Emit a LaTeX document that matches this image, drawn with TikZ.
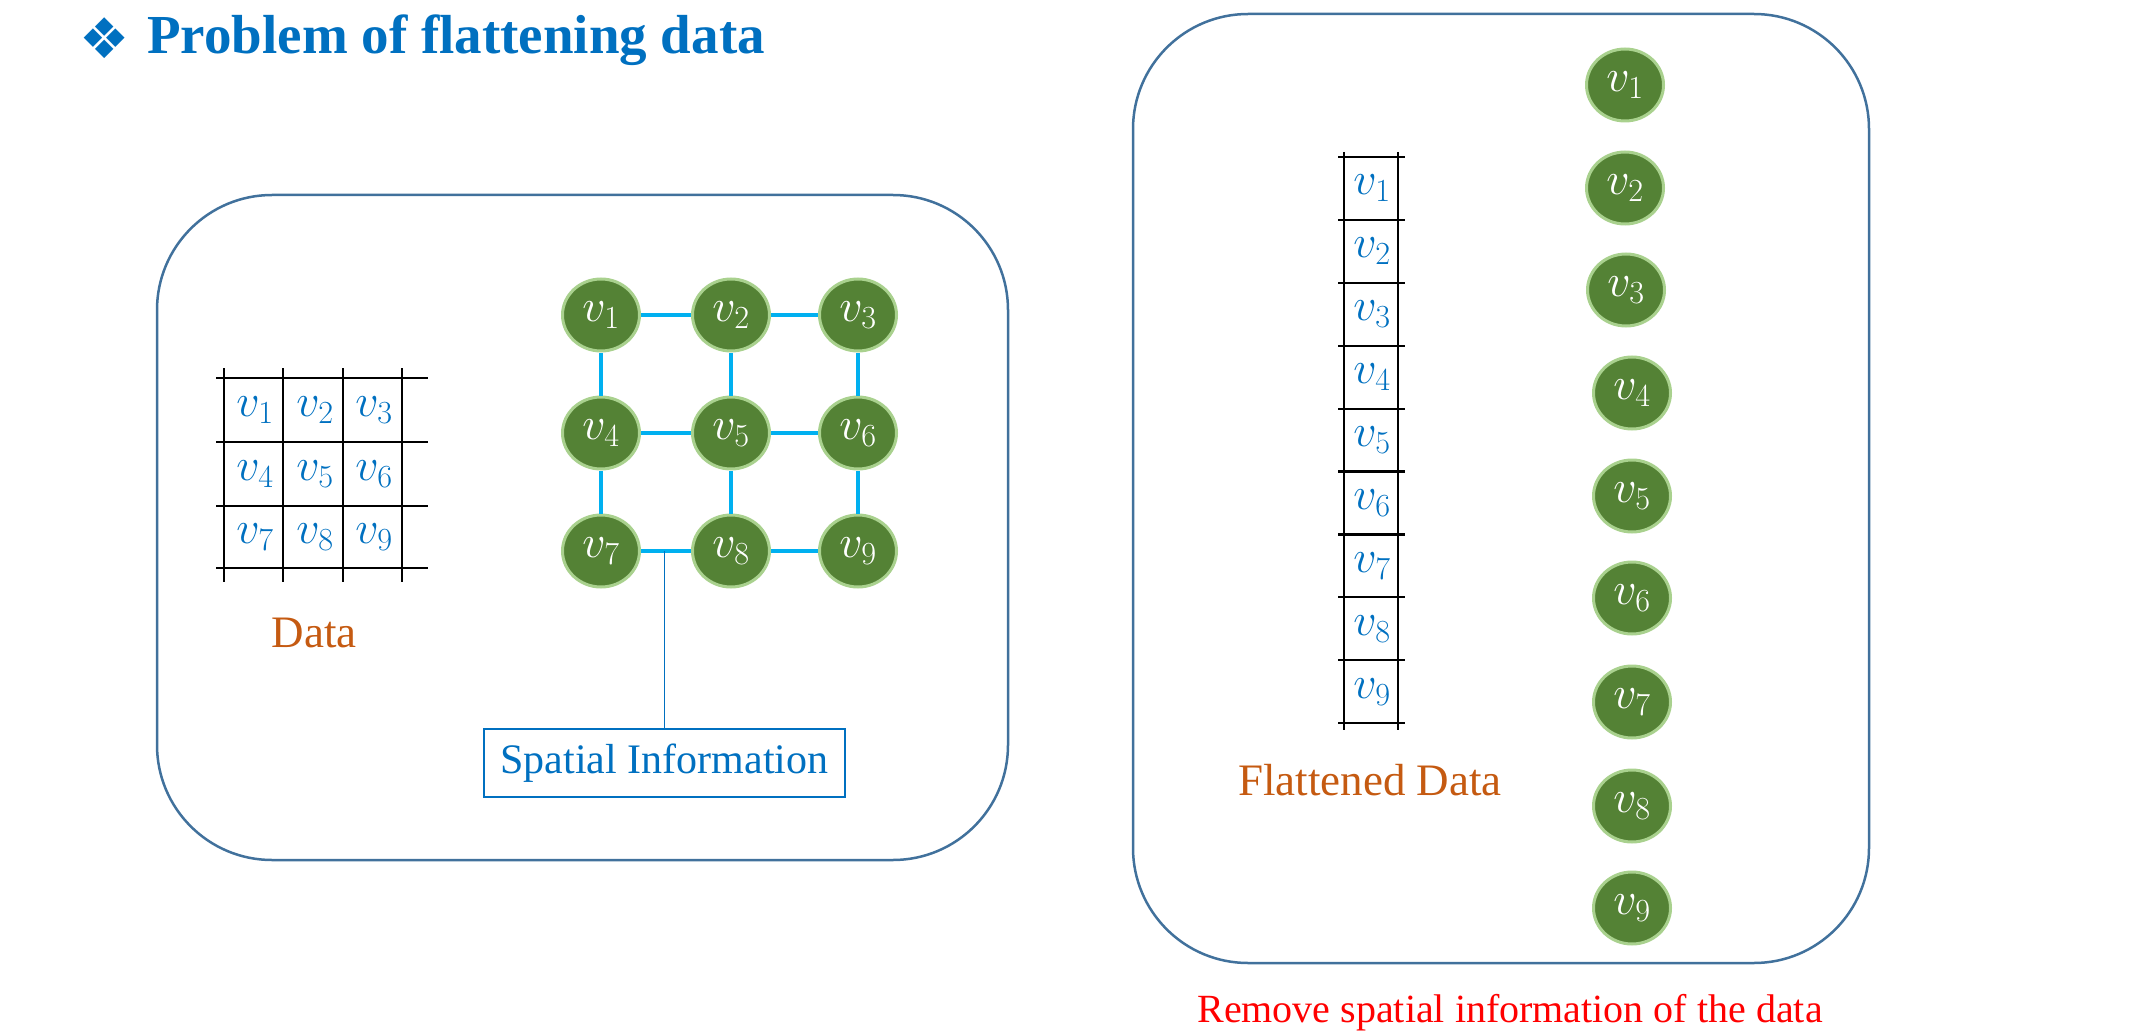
\RequirePackage{fix-cm}
\documentclass[tikz,border=0pt]{standalone}
\usepackage{fontspec}
\setmainfont{Liberation Serif}
\newfontfamily\symfont{DejaVu Sans}
\usetikzlibrary{shapes.geometric}
\definecolor{ttlblue}{HTML}{0070C0}
\definecolor{boxblue}{HTML}{41719C}
\definecolor{nodegreen}{HTML}{548235}
\definecolor{nodeborder}{HTML}{A9D18E}
\definecolor{edgeblue}{HTML}{00B0F0}
\definecolor{lblorange}{HTML}{C55A11}
\newcommand\myvsize{\fontsize{46}{50}\selectfont}
\tikzset{
  gnode/.style={ellipse, fill=nodegreen, draw=nodeborder, line width=3pt,
    minimum width=77pt, minimum height=72pt, inner sep=0pt, text=white, font=\myvsize},
  cell/.style={inner sep=0pt, text=ttlblue, font=\myvsize},
  edge/.style={draw=edgeblue, line width=4pt},
  gridline/.style={draw=black, line width=2.2pt},
  panel/.style={draw=boxblue, line width=2.5pt, rounded corners=115pt},
  lbl/.style={inner sep=0pt, text=lblorange, font=\fontsize{45}{50}\selectfont}
}
\begin{document}
\begin{tikzpicture}[x=1pt,y=-1pt]
\useasboundingbox (0,0) rectangle (2136,1032);
% title
\node[inner sep=0pt, text=ttlblue, font=\symfont\fontsize{56}{60}\selectfont] (tsym) at (105,38) {❖};
\node[inner sep=0pt, anchor=base west, text=ttlblue, font=\bfseries\fontsize{55}{60}\selectfont] (title) at (147,54) {Problem of flattening data};
% panels
\draw[panel] (157,195) rectangle (1008,860);
\draw[panel] (1133,14) rectangle (1869,963);
% left grid
\foreach \yy in {378,442,506,568} \draw[gridline] (216,\yy) -- (428,\yy);
\foreach \xx in {224,283,343,402} \draw[gridline, line width=1.8pt] (\xx,368) -- (\xx,582);
\foreach \i/\cx/\cy in {1/255/410,2/315/410,3/374/410,4/255/474,5/315/474,6/374/474,7/255/537,8/315/537,9/374/537}
  \node[cell] (c\i) at (\cx,\cy) {$v_{\i}$};
\node[lbl, anchor=base] (data) at (314,647) {Data};
% graph
\node[gnode] (v1) at (601,315) {$v_1$};
\node[gnode] (v2) at (731,315) {$v_2$};
\node[gnode] (v3) at (858,315) {$v_3$};
\node[gnode] (v4) at (601,433) {$v_4$};
\node[gnode] (v5) at (731,433) {$v_5$};
\node[gnode] (v6) at (858,433) {$v_6$};
\node[gnode] (v7) at (601,551) {$v_7$};
\node[gnode] (v8) at (731,551) {$v_8$};
\node[gnode] (v9) at (858,551) {$v_9$};
\draw[edge] (v1) -- (v2);
\draw[edge] (v2) -- (v3);
\draw[edge] (v4) -- (v5);
\draw[edge] (v5) -- (v6);
\draw[edge] (v7) -- (v8);
\draw[edge] (v8) -- (v9);
\draw[edge] (v1) -- (v4);
\draw[edge] (v4) -- (v7);
\draw[edge] (v2) -- (v5);
\draw[edge] (v5) -- (v8);
\draw[edge] (v3) -- (v6);
\draw[edge] (v6) -- (v9);
\node[draw=ttlblue, line width=2pt, text=ttlblue, font=\fontsize{42}{46}\selectfont,
  minimum width=361pt, minimum height=68pt, inner sep=0pt] (spatial) at (664.5,763) {Spatial Information};
\coordinate (tap) at (spatial.north |- v7);
\draw[ttlblue, line width=1.5pt] (tap) -- (spatial.north);
% right grid
\foreach \k in {0,...,9} \draw[gridline] (1338,157+62.9*\k) -- (1405,157+62.9*\k);
\foreach \xx in {1344,1398} \draw[gridline, line width=1.8pt] (\xx,152) -- (\xx,730);
\foreach \i in {1,...,9}
  \node[cell] (f\i) at (1372,157+31.45+62.9*\i-62.9) {$v_{\i}$};
\node[lbl, anchor=base] (flat) at (1370,795) {Flattened Data};
% right nodes
\node[gnode] (r1) at (1625,85) {$v_1$};
\node[gnode] (r2) at (1625,188) {$v_2$};
\node[gnode] (r3) at (1626,290) {$v_3$};
\node[gnode] (r4) at (1632,393) {$v_4$};
\node[gnode] (r5) at (1632,496) {$v_5$};
\node[gnode] (r6) at (1632,598) {$v_6$};
\node[gnode] (r7) at (1632,702) {$v_7$};
\node[gnode] (r8) at (1632,806) {$v_8$};
\node[gnode] (r9) at (1632,908) {$v_9$};
\node[inner sep=0pt, anchor=base, text=red, font=\fontsize{40}{44}\selectfont] (remove) at (1510,1022) {Remove spatial information of the data};
\end{tikzpicture}
\end{document}
